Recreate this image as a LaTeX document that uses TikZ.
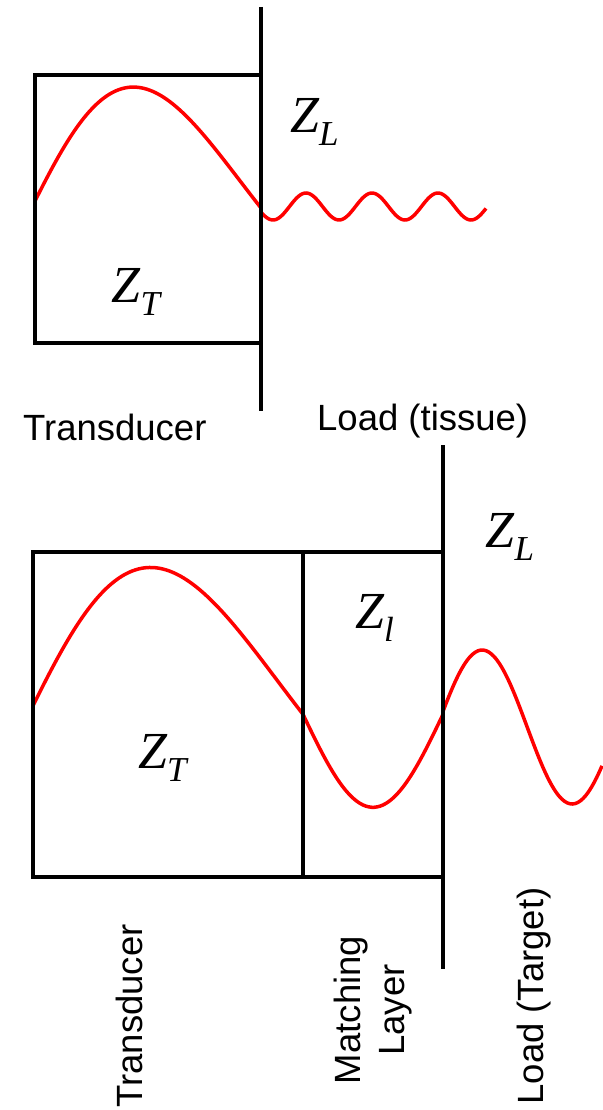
\documentclass[tikz,border=0pt]{standalone}
\usepackage{fontspec}
\setmainfont{Liberation Sans}
\newfontfamily\timesfont{Liberation Serif}
\newcommand\zimp[1]{{\timesfont\itshape\fontsize{52}{52}\selectfont Z\raisebox{-0.25em}{\fontsize{35}{35}\selectfont #1}}}
\tikzset{
  wall/.style={line width=3.8pt},
  wave/.style={red, line width=3.5pt, smooth},
  lbl/.style={font=\fontsize{36.5}{44}\selectfont, inner sep=0pt},
  imp/.style={inner sep=0pt, anchor=base west}
}
\begin{document}
\begin{tikzpicture}[x=1pt,y=-1pt]
\useasboundingbox (0,0) rectangle (602,1110);
% transducer against the load
\draw[wave] plot[domain=35:261,samples=80,variable=\x] ({\x},{201+7*(\x-35)/226-117*sin(180*((\x-35)/226+0.24*(\x-35)/226*(1-(\x-35)/226)))})
  -- plot[domain=261:486,samples=120,variable=\x] ({\x},{206.5+13.5*sin((\x-256.5)/66*360)});
\draw[wall] (35,75) rectangle (261,343);
\draw[wall] (261,7) -- (261,411);
\node[imp] (zl1) at (290,133) {\zimp{L}};
\node[imp] (zt1) at (111.5,302) {\zimp{T}};
\node[lbl, anchor=base west] (tr1) at (23,440) {Transducer};
\node[lbl, anchor=base west] (ld1) at (317,430) {Load (tissue)};
% with a matching layer
\draw[wave] plot[domain=33:303,samples=80,variable=\x] ({\x},{705.7+8.6*(\x-33)/270-142*sin(180*((\x-33)/270+0.24*(\x-33)/270*(1-(\x-33)/270)))})
  -- plot[domain=303:443,samples=50,variable=\x] ({\x},{714.3+93*sin((\x-303)/140*180)})
  -- plot[domain=443:602,samples=60,variable=\x] ({\x},{727-77*sin(9.7+2*(\x-442))});
\draw[wall] (33,552) rectangle (443,877);
\draw[wall] (303,552) -- (303,877);
\draw[wall] (443,445) -- (443,969);
\node[imp] (zl2) at (485.6,547) {\zimp{L}};
\node[imp] (zm2) at (355,628.6) {\zimp{l}};
\node[imp] (zt2) at (138,768) {\zimp{T}};
\node[lbl, rotate=90, anchor=base] (tr2) at (142,1016) {Transducer};
\node[lbl, rotate=90, align=center] (ml2) at (372.6,1010) {Matching\\Layer};
\node[lbl, rotate=90, anchor=base] (ld2) at (543,996) {Load (Target)};
\end{tikzpicture}
\end{document}
